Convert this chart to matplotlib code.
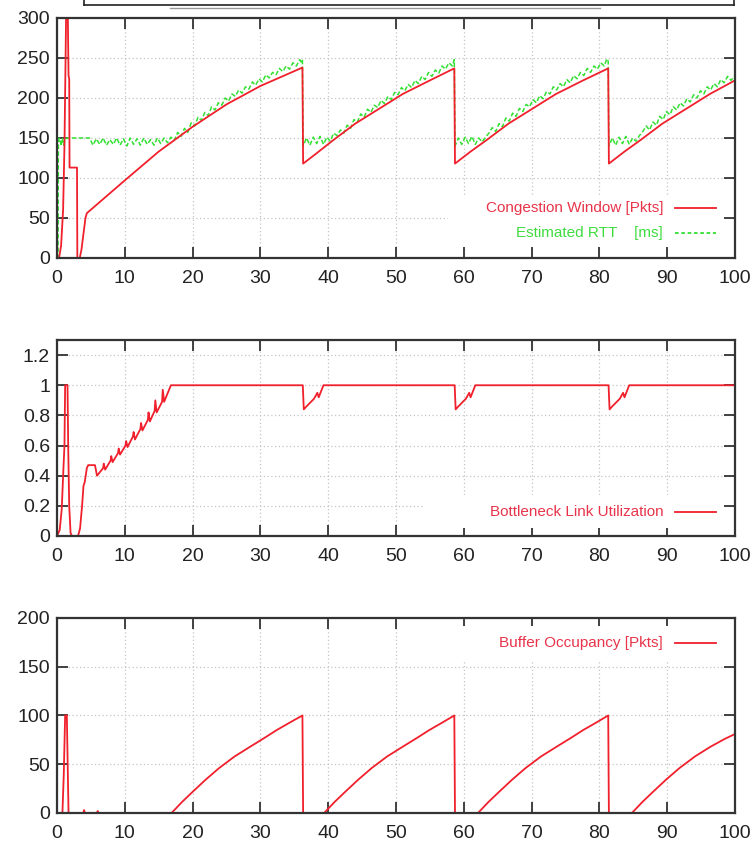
import matplotlib
matplotlib.use("Agg")
import matplotlib.pyplot as plt
from matplotlib.lines import Line2D
from matplotlib.patches import Rectangle

plt.rcParams["font.family"] = ["Liberation Sans", "DejaVu Sans"]

# ---------------------------------------------------------------------------
# data (time in s)
# ---------------------------------------------------------------------------
cwnd_t = [0, 0.3, 0.6, 0.9, 1.1, 1.25, 1.35, 1.5, 1.6, 1.7, 1.8, 1.85, 2.95, 3.0,
          3.35, 3.6, 3.9, 4.2, 4.4, 10, 15, 20, 25, 30, 36.2, 36.3,
          38, 40.7, 44, 47.6, 51, 55, 58.6, 58.7,
          61, 63.3, 66.6, 70.2, 73.6, 77.6, 81.3, 81.4,
          83.7, 86, 89.3, 92.9, 96.3, 100]
cwnd_v = [0, 0, 15, 60, 140, 240, 310, 310, 300, 228, 224, 113, 113, 0,
          0, 10, 30, 50, 56, 97, 133, 164, 192, 215, 238, 118,
          129, 147, 168, 187, 205, 222, 237, 118,
          133, 147, 168, 187, 205, 222, 237, 118,
          133, 147, 168, 187, 205, 222]

rtt_t = [0, 0.15, 0.2, 0.3, 0.5, 0.6, 0.8, 1.0, 1.2, 1.5, 4.8,
         5.3, 5.8, 6.3, 6.8, 7.3, 7.8, 8.3, 8.8, 9.3, 9.8, 10.3, 10.8, 11.3, 11.8,
         12.3, 12.8, 13.3, 13.8, 14.3, 14.8, 15.3, 15.8, 16.3, 16.8,
         17.3, 17.8, 18.3, 18.8, 19.3, 19.8, 20.3, 20.8, 21.3, 21.8, 22.3, 22.8,
         23.3, 23.8, 24.3, 24.8, 25.3, 25.8, 26.3, 26.8, 27.3, 27.8, 28.3, 28.8,
         29.3, 29.8, 30.3, 30.8, 31.3, 31.8, 32.3, 32.8, 33.3, 33.8, 34.3, 34.8,
         35.3, 35.8, 36.1, 36.2, 36.3,
         36.8, 37.3, 37.8, 38.3, 38.8, 39.3, 39.8, 40.3, 40.8,
         41.3, 41.8, 42.3, 42.8, 43.3, 43.8, 44.3, 44.8, 45.3, 45.8, 46.3, 46.8,
         47.3, 47.8, 48.3, 48.8, 49.3, 49.8, 50.3, 50.8, 51.3, 51.8, 52.3, 52.8,
         53.3, 53.8, 54.3, 54.8, 55.3, 55.8, 56.3, 56.8, 57.3, 57.8, 58.3, 58.6, 58.7,
         59.2, 59.7, 60.2, 60.7, 61.2, 61.7, 62.2, 62.7, 63.2, 63.7,
         64.2, 64.7, 65.2, 65.7, 66.2, 66.7, 67.2, 67.7, 68.2, 68.7, 69.2, 69.7,
         70.2, 70.7, 71.2, 71.7, 72.2, 72.7, 73.2, 73.7, 74.2, 74.7, 75.2, 75.7,
         76.2, 76.7, 77.2, 77.7, 78.2, 78.7, 79.2, 79.7, 80.2, 80.7, 81.1, 81.3, 81.4,
         81.9, 82.4, 82.9, 83.4, 83.9, 84.4, 84.9, 85.4, 85.9, 86.4,
         86.9, 87.4, 87.9, 88.4, 88.9, 89.4, 89.9, 90.4, 90.9, 91.4, 91.9, 92.4,
         92.9, 93.4, 93.9, 94.4, 94.9, 95.4, 95.9, 96.4, 96.9, 97.4, 97.9, 98.4,
         98.9, 99.4, 100]
rtt_v = [0, 0, 140, 150, 146, 140, 150, 141, 149, 150, 150,
         141, 149, 142, 150, 141, 148, 142, 150, 141, 149, 140, 150, 142, 149,
         141, 150, 142, 148, 141, 150, 143, 150, 144, 151,
         147, 157, 152, 162, 157, 169, 165, 176, 172, 182, 178, 189,
         185, 194, 191, 200, 196, 205, 202, 210, 206, 214, 211, 220,
         216, 224, 220, 229, 225, 232, 229, 237, 233, 240, 236, 244,
         240, 248, 244, 247, 140,
         150, 141, 151, 143, 152, 142, 151, 146, 156,
         153, 160, 156, 166, 162, 173, 170, 180, 176, 186, 182, 191,
         188, 197, 193, 202, 198, 207, 204, 213, 209, 217, 213, 222,
         218, 227, 223, 232, 227, 235, 231, 240, 236, 244, 240, 248, 140,
         150, 142, 151, 143, 152, 142, 150, 145, 151, 156,
         163, 158, 168, 164, 175, 171, 181, 177, 187, 183, 192, 189,
         198, 194, 203, 199, 208, 205, 214, 210, 218, 214, 223, 219,
         228, 224, 232, 228, 237, 232, 240, 236, 244, 240, 249, 246, 140,
         150, 141, 151, 143, 152, 142, 150, 146, 153, 158,
         165, 160, 170, 166, 177, 173, 183, 179, 189, 185, 194, 190,
         199, 195, 204, 200, 209, 205, 214, 210, 218, 214, 223, 219,
         227, 222, 228]

util_t = [0, 0.4, 0.7, 0.95, 1.1, 1.2, 1.55, 1.65, 1.8, 2.0, 2.2, 3.1, 3.4, 3.7,
          3.9, 4.1, 4.4, 4.6, 5.6, 5.9,
          6.8, 6.9, 7.1, 7.9, 8.0, 8.2, 9.0, 9.1, 9.3, 10.1, 10.2, 10.4,
          11.2, 11.3, 11.5, 12.3, 12.4, 12.6, 13.4, 13.5, 13.7, 14.4, 14.5, 14.7,
          15.5, 15.6, 15.8, 16.8,
          36.25, 36.4, 36.8, 37.9, 38.4, 38.6, 39.3,
          58.65, 58.8, 59.2, 60.3, 60.8, 61.0, 61.7,
          81.35, 81.5, 81.9, 83.0, 83.5, 83.7, 84.4, 100]
util_v = [0, 0.04, 0.18, 0.45, 0.6, 1.0, 1.0, 0.6, 0.2, 0.02, 0, 0, 0.05, 0.2,
          0.33, 0.36, 0.45, 0.47, 0.47, 0.40,
          0.45, 0.48, 0.44, 0.50, 0.53, 0.49, 0.55, 0.58, 0.54, 0.60, 0.63, 0.59,
          0.66, 0.69, 0.64, 0.71, 0.75, 0.70, 0.77, 0.82, 0.76, 0.83, 0.90, 0.82,
          0.89, 0.97, 0.89, 1.0,
          1.0, 0.84, 0.86, 0.91, 0.95, 0.92, 1.0,
          1.0, 0.84, 0.86, 0.91, 0.95, 0.92, 1.0,
          1.0, 0.84, 0.86, 0.91, 0.95, 0.92, 1.0, 1.0]

buf_t = [0, 0.8, 1.0, 1.2, 1.45, 1.7, 3.9, 4.0, 4.1, 5.9, 6.0, 6.1, 16.9,
         18.4, 19.9, 21.9, 23.9, 26.2, 28.5, 30.6, 32.4, 34.4, 36.2, 36.3,
         39.4, 40.9, 42.4, 44.4, 46.4, 48.7, 51.0, 53.1, 54.9, 56.9, 58.6, 58.7,
         62.1, 63.6, 65.1, 67.1, 69.1, 71.4, 73.7, 75.8, 77.6, 79.6, 81.3, 81.4,
         84.8, 86.3, 87.8, 89.8, 91.8, 94.1, 96.4, 98.5, 100]
buf_v = [0, 0, 40, 100, 100, 0, 0, 3, 0, 0, 2, 0, 0,
         11, 21, 34, 46, 58, 68, 77, 85, 93, 100, 0,
         0, 11, 21, 34, 46, 58, 68, 77, 85, 93, 100, 0,
         0, 11, 21, 34, 46, 58, 68, 77, 85, 93, 100, 0,
         0, 11, 21, 34, 46, 58, 68, 76, 81]

x_ticks = [0, 10, 20, 30, 40, 50, 60, 70, 80, 90, 100]
y1_ticks = [0, 50, 100, 150, 200, 250, 300]
y2_ticks = [0, 0.2, 0.4, 0.6, 0.8, 1.0, 1.2]
y2_labels = ["0", "0.2", "0.4", "0.6", "0.8", "1", "1.2"]
y3_ticks = [0, 50, 100, 150, 200]

RED = "#f0202c"
GREEN = "#33e033"
RED_TXT = "#e8344a"
GREEN_TXT = "#3fdc3f"

fig = plt.figure(figsize=(7.54, 8.52), dpi=100)

panels = [
    [0.0756, 0.6972, 0.8992, 0.2817],
    [0.0756, 0.3709, 0.8992, 0.2300],
    [0.0756, 0.0458, 0.8992, 0.2289],
]
axes = [fig.add_axes(p) for p in panels]


def style(ax, yticks, ylim, ylabels=None):
    ax.set_xlim(0, 100)
    ax.set_ylim(*ylim)
    ax.set_xticks(x_ticks)
    ax.set_yticks(yticks)
    if ylabels:
        ax.set_yticklabels(ylabels)
    ax.tick_params(direction="in", length=8, width=1.3, color="#333333",
                   top=True, right=True, labelsize=14, labelcolor="#222222")
    ax.tick_params(axis="y", pad=5)
    ax.tick_params(axis="x", pad=9)
    ax.grid(True, color="#c4c4c4", linestyle=(0, (1, 2)), linewidth=0.9)
    for s in ax.spines.values():
        s.set_color("#333333")
        s.set_linewidth(1.6)


def key(ax, box, rows):
    ax.add_patch(Rectangle((box[0], box[1]), box[2], box[3], transform=ax.transAxes,
                           facecolor="white", edgecolor="none", zorder=1.8))
    for y, label, col, tcol, ls in rows:
        ax.text(0.894, y, label, transform=ax.transAxes, ha="right", va="center",
                fontsize=11, color=tcol, zorder=3)
        ax.plot([0.911, 0.972], [y, y], transform=ax.transAxes, color=col,
                linestyle=ls, linewidth=1.3, zorder=3)


ax1, ax2, ax3 = axes
ax1.plot(rtt_t, rtt_v, color=GREEN, linestyle=(0, (3, 1.5)), linewidth=1.1, zorder=2)
ax1.plot(cwnd_t, cwnd_v, color=RED, linewidth=1.3, zorder=2.1)
style(ax1, y1_ticks, (0, 300))
key(ax1, (0.577, 0.045, 0.407, 0.21),
    [(0.208, "Congestion Window [Pkts]", RED, RED_TXT, "-"),
     (0.104, "Estimated RTT    [ms]", GREEN, GREEN_TXT, (0, (2, 1.5)))])

ax2.plot(util_t, util_v, color=RED, linewidth=1.3, zorder=2)
style(ax2, y2_ticks, (0, 1.3), y2_labels)
key(ax2, (0.543, 0.04, 0.441, 0.17),
    [(0.122, "Bottleneck Link Utilization", RED, RED_TXT, "-")])

ax3.plot(buf_t, buf_v, color=RED, linewidth=1.3, zorder=2)
style(ax3, y3_ticks, (0, 200))
key(ax3, (0.56, 0.78, 0.424, 0.18),
    [(0.872, "Buffer Occupancy [Pkts]", RED, RED_TXT, "-")])

# cropped title box at the very top
x0, x1, yb = 84 / 754, 734 / 754, 1 - 5 / 852
fig.add_artist(Line2D([x0, x1], [yb, yb], color="#222222", linewidth=1.2))
fig.add_artist(Line2D([x0, x0], [yb, 1], color="#222222", linewidth=1.2))
fig.add_artist(Line2D([x1, x1], [yb, 1], color="#222222", linewidth=1.2))
fig.add_artist(Line2D([170 / 754, 600 / 754], [1 - 7.5 / 852] * 2, color="#999999",
                      linewidth=1.0))

fig.savefig("out.png", dpi=100)
